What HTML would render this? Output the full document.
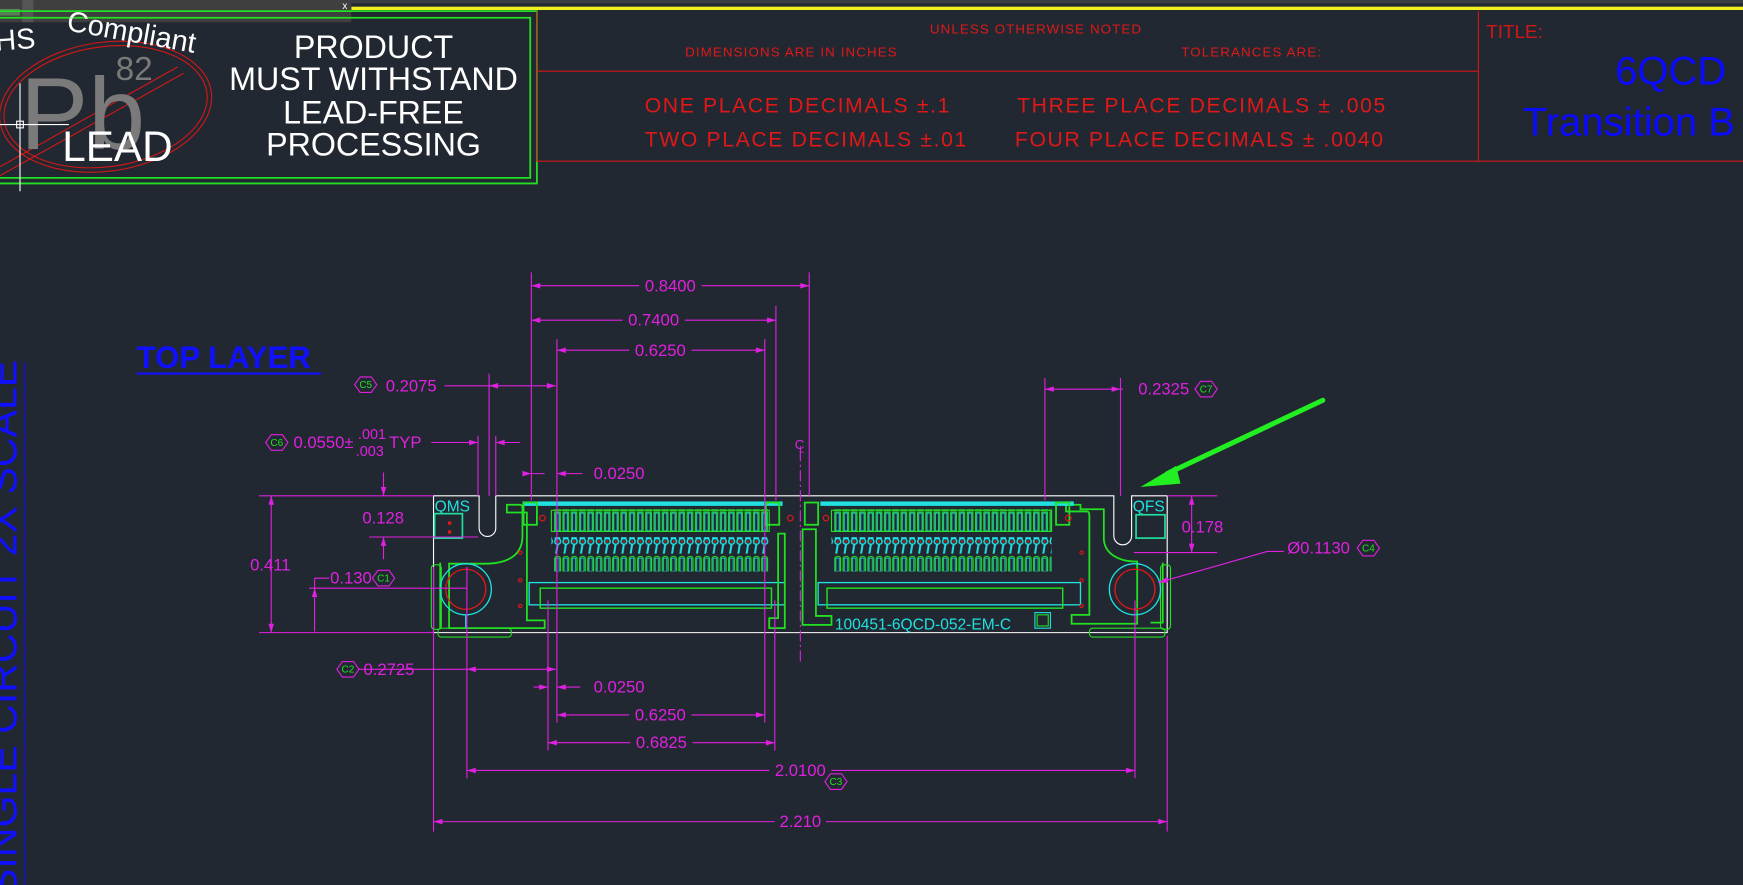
<!DOCTYPE html>
<html><head><meta charset="utf-8"><style>
html,body{margin:0;padding:0;background:#222831;overflow:hidden}
svg{display:block}
text{font-family:"Liberation Sans",Arial,sans-serif}
.r{fill:#e01818;font-size:12px;letter-spacing:1px}
.rb{fill:#e01818;font-size:19px;letter-spacing:1.5px}
.m{fill:#e020e0;font-size:15px}
.d{stroke:#e020e0;stroke-width:1;fill:none}
.g{stroke:#22e022;stroke-width:1.6;fill:none}
.c{stroke:#20e0e0;stroke-width:1.2;fill:none}
.hx{fill:none;stroke:#e020e0;stroke-width:1}
.hxt{fill:#22e022;font-size:9px}
</style></head><body>
<svg width="1743" height="885" viewBox="0 0 1568 796" preserveAspectRatio="none" xmlns="http://www.w3.org/2000/svg">
<defs>
<pattern id="pt" x="498" y="0" width="7.45" height="20" patternUnits="userSpaceOnUse">
<rect x="1" y="0.5" width="5" height="18" fill="none" stroke="#22e022" stroke-width="1"/>
<rect x="2" y="1.5" width="3" height="16" fill="none" stroke="#20e0e0" stroke-width="0.8"/>
</pattern>
<pattern id="pm" x="498" y="0" width="7.45" height="30" patternUnits="userSpaceOnUse">
<circle cx="3.7" cy="7" r="2.6" fill="none" stroke="#20e0e0" stroke-width="1.3"/>
<circle cx="3.7" cy="22" r="2.6" fill="none" stroke="#20e0e0" stroke-width="1.3"/>
<path d="M3.7 9 L2 20 M1 4 L6 4" stroke="#20e0e0" stroke-width="1.8"/>
<circle cx="3.7" cy="7" r="1" fill="#e01818"/>
<circle cx="3.7" cy="22" r="1" fill="#e01818"/>
</pattern>
<pattern id="pb" x="498" y="0" width="7.45" height="20" patternUnits="userSpaceOnUse">
<rect x="1" y="0.5" width="5.2" height="15" rx="2" fill="none" stroke="#22e022" stroke-width="1"/>
<rect x="2" y="2" width="3" height="12" fill="none" stroke="#20e0e0" stroke-width="0.7"/>
</pattern>
<pattern id="pt2" x="750" y="0" width="7.45" height="20" patternUnits="userSpaceOnUse">
<rect x="1" y="0.5" width="5" height="18" fill="none" stroke="#22e022" stroke-width="1"/>
<rect x="2" y="1.5" width="3" height="16" fill="none" stroke="#20e0e0" stroke-width="0.8"/>
</pattern>
<pattern id="pm2" x="750" y="0" width="7.45" height="30" patternUnits="userSpaceOnUse">
<circle cx="3.7" cy="7" r="2.6" fill="none" stroke="#20e0e0" stroke-width="1.3"/>
<circle cx="3.7" cy="22" r="2.6" fill="none" stroke="#20e0e0" stroke-width="1.3"/>
<path d="M3.7 9 L2 20 M1 4 L6 4" stroke="#20e0e0" stroke-width="1.8"/>
<circle cx="3.7" cy="7" r="1" fill="#e01818"/>
<circle cx="3.7" cy="22" r="1" fill="#e01818"/>
</pattern>
<pattern id="pb2" x="750" y="0" width="7.45" height="20" patternUnits="userSpaceOnUse">
<rect x="1" y="0.5" width="5.2" height="15" rx="2" fill="none" stroke="#22e022" stroke-width="1"/>
<rect x="2" y="2" width="3" height="12" fill="none" stroke="#20e0e0" stroke-width="0.7"/>
</pattern>
</defs>

<rect x="0" y="0" width="1568" height="3" fill="#3a3d44"/>
<rect x="316" y="6" width="1252" height="3" fill="#f0f020"/>
<rect x="0" y="0" width="316" height="20" fill="#3f3f3f"/>
<rect x="0" y="8" width="18" height="6" fill="#6a6" opacity="0.6"/>
<rect x="20" y="0" width="10" height="20" fill="#555"/>
<text x="308" y="8" fill="#fff" font-size="9">x</text>

<path d="M0 10 H483 V165 H0" class="g" stroke-width="1.3"/>
<path d="M0 16 H477 V160 H0" class="g" stroke-width="1.3"/>

<ellipse cx="95" cy="96" rx="96" ry="58" transform="rotate(-8 95 96)" fill="none" stroke="#d01818" stroke-width="1"/>
<ellipse cx="95" cy="96" rx="92" ry="54" transform="rotate(-8 95 96)" fill="none" stroke="#d01818" stroke-width="1"/>
<path d="M0 150 L160 60 M0 158 L165 66" stroke="#d01818" stroke-width="1"/>
<text x="18" y="134" fill="#7a7a7a" font-size="92">Pb</text>
<text x="104" y="72" fill="#7a7a7a" font-size="30">82</text>
<text x="56" y="145" fill="#fff" font-size="38">LEAD</text>
<path d="M18 75 V172 M0 112 H62" stroke="#fff" stroke-width="1"/>
<rect x="15" y="109" width="6" height="6" fill="none" stroke="#fff"/>
<text x="-4" y="44" fill="#fff" font-size="26" transform="rotate(-4 20 40)">HS</text>
<text x="58" y="38" fill="#fff" font-size="26" transform="rotate(10 120 40)">Compliant</text>
<g fill="#fff" font-size="29" text-anchor="middle">
<text x="336" y="52">PRODUCT</text>
<text x="336" y="81">MUST WITHSTAND</text>
<text x="336" y="111">LEAD-FREE</text>
<text x="336" y="140">PROCESSING</text>
</g>

<g stroke="#d01818" stroke-width="1" fill="none">
<path d="M483 10 V145 H1568 M483 64 H1330 M1330 10 V145"/>
</g>
<text class="r" x="932" y="30" text-anchor="middle">UNLESS OTHERWISE NOTED</text>
<text class="r" x="712" y="51" text-anchor="middle">DIMENSIONS ARE IN INCHES</text>
<text class="r" x="1126" y="51" text-anchor="middle">TOLERANCES ARE:</text>
<text class="rb" x="580" y="101">ONE PLACE DECIMALS ±.1</text>
<text class="rb" x="580" y="132">TWO PLACE DECIMALS ±.01</text>
<text class="rb" x="915" y="101">THREE PLACE DECIMALS ± .005</text>
<text class="rb" x="913" y="132">FOUR PLACE DECIMALS ±  .0040</text>
<text x="1337" y="34" fill="#d01818" font-size="17">TITLE:</text>
<text x="1453" y="76" fill="#0a0aff" font-size="36">6QCD</text>
<text x="1370" y="122" fill="#0a0aff" font-size="36">Transition B</text>

<path d="M22 326 V796" stroke="#1010e0" stroke-width="1.2"/>
<text x="0" y="0" transform="translate(15 806) rotate(-90)" fill="#1010ff" font-size="37">SINGLE CIRCUIT 2X SCALE</text>

<text x="123" y="331" fill="#1010ff" font-size="28" font-weight="bold">TOP LAYER</text>
<path d="M123 336 H289" stroke="#1010ff" stroke-width="2"/>

<path d="M390 446 H431 V475 a7.5 7.5 0 0 0 15 0 V446 H1002 V482 a8 8 0 0 0 16 0 V446 H1050 V569 H390 Z" fill="none" stroke="#fff" stroke-width="1"/>

<path d="M456 454 H468 Q470 454 470 458 V482 Q470 500 452 505 Q445 507 437 507 H404 V565 H490 V558 H474 V461 H456 Z" class="g"/>
<path d="M396 506 V566" class="g"/>
<rect x="388" y="508" width="9" height="58" rx="3" fill="none" stroke="#22e022" stroke-width="1"/>
<rect x="394" y="565" width="66" height="8" rx="3" fill="none" stroke="#22e022" stroke-width="1"/>
<circle cx="419" cy="530" r="23" class="c"/>
<circle cx="419" cy="530" r="18" fill="none" stroke="#e01818" stroke-width="1.2"/>
<path d="M419 553 V565" class="c"/>
<text x="391" y="460" fill="#20e0e0" font-size="14">QMS</text>
<rect x="391" y="462" width="25" height="22" fill="none" stroke="#20e0a0" stroke-width="1.5"/>
<rect x="403" y="469" width="3" height="3" fill="#e01818"/><rect x="403" y="477" width="3" height="3" fill="#e01818"/>

<path d="M982 454 H969 V460 H988 Q990 460 990 464 V553 H974 V561 H1033 V505 H1030 Q1020 505 1012 500 Q1003 494 1003 484 V458 H982 Z" class="g" transform="translate(-10 0)"/>
<path d="M1046 506 V560 H1035" class="g"/>
<rect x="1044" y="508" width="9" height="58" rx="3" fill="none" stroke="#22e022" stroke-width="1"/>
<rect x="980" y="565" width="68" height="8" rx="3" fill="none" stroke="#22e022" stroke-width="1"/>
<circle cx="1021" cy="530" r="23" class="c"/>
<circle cx="1021" cy="530" r="18" fill="none" stroke="#e01818" stroke-width="1.2"/>
<text x="1019" y="460" fill="#20e0e0" font-size="14">QFS</text>
<rect x="1022" y="463" width="26" height="21" fill="none" stroke="#20e0a0" stroke-width="1.5"/>

<rect x="470" y="451" width="234" height="4" fill="#20e0e0"/>
<rect x="471" y="452" width="12" height="20" class="g"/>
<rect x="689" y="452" width="12" height="20" class="g"/>
<rect x="498" y="458" width="194" height="20" fill="url(#pt)"/>
<rect x="496" y="459" width="196" height="19" fill="none" stroke="#22e022" stroke-width="1"/>
<rect x="496" y="478" width="196" height="20" fill="url(#pm)"/>
<rect x="498" y="498" width="194" height="16" fill="url(#pb)"/>
<rect x="476" y="524" width="230" height="20" fill="none" stroke="#20e0e0" stroke-width="1.2"/>
<rect x="486" y="529" width="208" height="18" fill="none" stroke="#22e022" stroke-width="1.3"/>
<path d="M706 480 V565 H692 V556 H700 V480 Z" class="g"/>
<rect x="738" y="451" width="228" height="4" fill="#20e0e0"/>
<rect x="724" y="452" width="12" height="20" class="g"/>
<rect x="950" y="452" width="12" height="20" class="g"/>
<rect x="750" y="458" width="196" height="20" fill="url(#pt2)"/>
<rect x="748" y="459" width="198" height="19" fill="none" stroke="#22e022" stroke-width="1"/>
<rect x="748" y="478" width="198" height="20" fill="url(#pm2)"/>
<rect x="750" y="498" width="196" height="16" fill="url(#pb2)"/>
<rect x="736" y="524" width="236" height="20" fill="none" stroke="#20e0e0" stroke-width="1.2"/>
<rect x="744" y="529" width="212" height="18" fill="none" stroke="#22e022" stroke-width="1.3"/>
<path d="M722 476 H734 V554 H748 V562 H722 Z" class="g"/>
<text x="751" y="566" fill="#20e0e0" font-size="14">100451-6QCD-052-EM-C</text>
<rect x="931" y="551" width="14" height="14" fill="none" stroke="#20e0e0" stroke-width="1"/>
<rect x="933" y="553" width="10" height="10" fill="none" stroke="#22e022" stroke-width="1"/>
<g fill="none" stroke="#e01818" stroke-width="1">
<circle cx="488" cy="466" r="2.5"/><circle cx="711" cy="466" r="2.5"/><circle cx="743" cy="466" r="2.5"/><circle cx="961" cy="466" r="2.5"/>
<circle cx="468" cy="497" r="1.5"/><circle cx="468" cy="522" r="1.5"/><circle cx="468" cy="545" r="1.5"/>
<circle cx="973" cy="497" r="1.5"/><circle cx="973" cy="522" r="1.5"/><circle cx="973" cy="545" r="1.5"/>
</g>

<path d="M720 405 V595" stroke="#e020e0" stroke-width="1" stroke-dasharray="10 3 2 3"/>
<text x="715" y="404" fill="#e020e0" font-size="12">C</text>
<text x="719" y="407" fill="#e020e0" font-size="8">L</text>

<g class="d">
<path d="M478 245 V450 M728 245 V446 M698 275 V450 M501 305 V650 M688 305 V650"/>
<path d="M478 257 H728 M478 288 H698 M501 315 H688"/>
<path d="M400 347 H500 M440 336 V446 M446 392 V446 M430 392 V446"/>
<path d="M388 398 H430 M446 398 H468"/>
<path d="M478 426 H490 M501 426 H524"/>
<path d="M940 340 V450 M1008 340 V446 M940 350 H1010"/>
<path d="M233 446 H390 M233 569 H390 M244 446 V569"/>
<path d="M345 425 V446 M345 483 V503 M332 483 H430"/>
<path d="M283 520 H296 M283 520 V568 M278 529 H420"/>
<path d="M1020 497 H1095 M1050 446 H1095 M1072 446 V497"/>
<path d="M1042 524 L1140 496 H1155"/>
<path d="M390 510 V748 M1050 572 V748 M420 510 V700 M1021 540 V700 M493 540 V675 M697 540 V675"/>
<path d="M322 602 H500 M480 618 H493 M501 618 H522 M501 643 H688 M493 668 H697 M420 693 H1021 M390 739 H1050"/>
</g>
<g fill="#e020e0">
<path d="M478 257 l8 -2.5 v5z M728 257 l-8 -2.5 v5z M478 288 l8 -2.5 v5z M698 288 l-8 -2.5 v5z M501 315 l8 -2.5 v5z M688 315 l-8 -2.5 v5z"/>
<path d="M440 347 l8 -2.5 v5z M500 347 l-8 -2.5 v5z M430 398 l-8 -2.5 v5z M446 398 l8 -2.5 v5z M478 426 l-8 -2.5 v5z M501 426 l8 -2.5 v5z"/>
<path d="M940 350 l8 -2.5 v5z M1008 350 l-8 -2.5 v5z"/>
<path d="M244 446 l-2.5 8 h5z M244 569 l-2.5 -8 h5z M345 446 l-2.5 -8 h5z M345 483 l-2.5 8 h5z M283 529 l-2.5 8 h5z"/>
<path d="M1072 446 l-2.5 8 h5z M1072 497 l-2.5 -8 h5z M1042 524 l8 -5 l1 5z"/>
<path d="M420 602 l8 -2.5 v5z M500 602 l-8 -2.5 v5z M493 618 l-8 -2.5 v5z M501 618 l8 -2.5 v5z M501 643 l8 -2.5 v5z M688 643 l-8 -2.5 v5z M493 668 l8 -2.5 v5z M697 668 l-8 -2.5 v5z M420 693 l8 -2.5 v5z M1021 693 l-8 -2.5 v5z M390 739 l8 -2.5 v5z M1050 739 l-8 -2.5 v5z"/>
</g>
<g class="m">
<rect x="575" y="250" width="56" height="14" fill="#222831"/><text x="603" y="262" text-anchor="middle">0.8400</text>
<rect x="560" y="281" width="56" height="14" fill="#222831"/><text x="588" y="293" text-anchor="middle">0.7400</text>
<rect x="566" y="308" width="56" height="14" fill="#222831"/><text x="594" y="320" text-anchor="middle">0.6250</text>
<text x="347" y="352">0.2075</text>
<text x="264" y="403">0.0550±</text><text x="322" y="395" font-size="13">.001</text><text x="320" y="410" font-size="13">.003</text><text x="350" y="403">TYP</text>
<text x="534" y="431">0.0250</text>
<text x="1024" y="355">0.2325</text>
<text x="225" y="513">0.411</text>
<text x="326" y="471">0.128</text>
<text x="297" y="525">0.130</text>
<text x="1063" y="479">0.178</text>
<text x="1158" y="498">Ø0.1130</text>
<text x="327" y="607">0.2725</text>
<text x="534" y="623">0.0250</text>
<rect x="566" y="636" width="56" height="14" fill="#222831"/><text x="594" y="648" text-anchor="middle">0.6250</text>
<rect x="567" y="661" width="56" height="14" fill="#222831"/><text x="595" y="673" text-anchor="middle">0.6825</text>
<rect x="692" y="686" width="56" height="14" fill="#222831"/><text x="720" y="698" text-anchor="middle">2.0100</text>
<rect x="697" y="732" width="46" height="14" fill="#222831"/><text x="720" y="744" text-anchor="middle">2.210</text>
</g>
<g>
<g transform="translate(329 346)"><path class="hx" d="M-10 0 L-5 -7 H5 L10 0 L5 7 H-5Z"/><text class="hxt" x="0" y="3" text-anchor="middle">C5</text></g>
<g transform="translate(249 398)"><path class="hx" d="M-10 0 L-5 -7 H5 L10 0 L5 7 H-5Z"/><text class="hxt" x="0" y="3" text-anchor="middle">C6</text></g>
<g transform="translate(1085 350)"><path class="hx" d="M-10 0 L-5 -7 H5 L10 0 L5 7 H-5Z"/><text class="hxt" x="0" y="3" text-anchor="middle">C7</text></g>
<g transform="translate(345 520)"><path class="hx" d="M-10 0 L-5 -7 H5 L10 0 L5 7 H-5Z"/><text class="hxt" x="0" y="3" text-anchor="middle">C1</text></g>
<g transform="translate(1231 493)"><path class="hx" d="M-10 0 L-5 -7 H5 L10 0 L5 7 H-5Z"/><text class="hxt" x="0" y="3" text-anchor="middle">C4</text></g>
<g transform="translate(313 602)"><path class="hx" d="M-10 0 L-5 -7 H5 L10 0 L5 7 H-5Z"/><text class="hxt" x="0" y="3" text-anchor="middle">C2</text></g>
<g transform="translate(752 703)"><path class="hx" d="M-10 0 L-5 -7 H5 L10 0 L5 7 H-5Z"/><text class="hxt" x="0" y="3" text-anchor="middle">C3</text></g>
</g>

<path d="M1190 360 L1050 426" stroke="#22ee22" stroke-width="4.5" stroke-linecap="round"/>
<path d="M1026 438 L1058 419 L1062 435 Z" fill="#22ee22"/>
</svg>
</body></html>
